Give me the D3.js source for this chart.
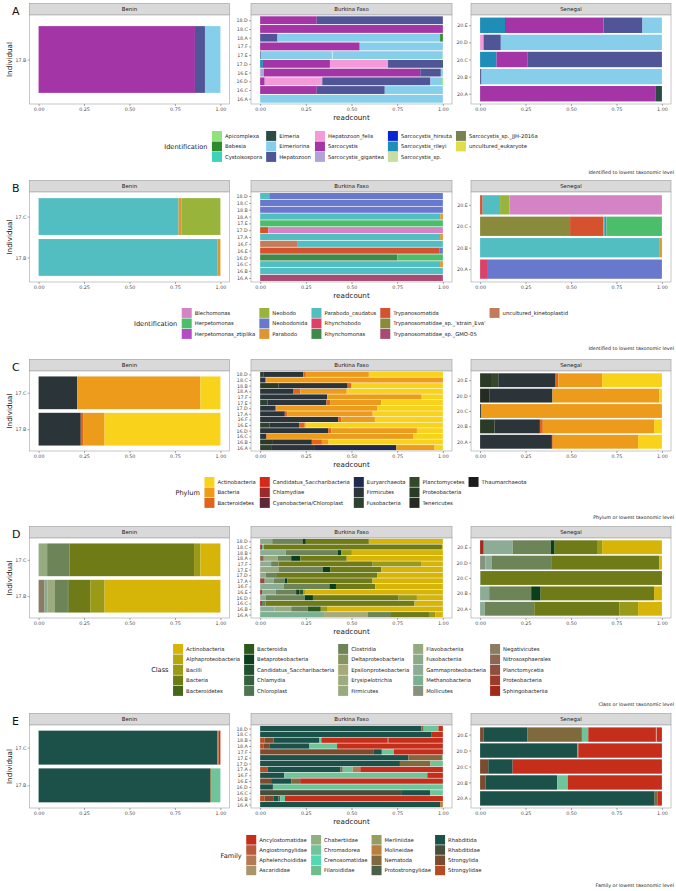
<!DOCTYPE html>
<html><head><meta charset="utf-8">
<script src="https://cdn.jsdelivr.net/npm/d3@7"></script>
<style>body{margin:0;background:#fff}svg{display:block}text{font-family:"DejaVu Sans",sans-serif}</style>
</head><body><svg id="c" width="676" height="891"></svg>
<script>
const countries = ["Benin","Burkina Faso","Senegal"];
const tickValues = [0,0.25,0.5,0.75,1];
const tickLabels = ["0.00","0.25","0.50","0.75","1.00"];

// ---------- Panel A : Identification (Apicomplexa) ----------
const catsA = ["Apicomplexa","Babesia","Cystoisospora","Eimeria","Eimeriorina","Hepatozoon","Hepatozoon_felis","Sarcocystis","Sarcocystis_gigantea","Sarcocystis_hirsuta","Sarcocystis_rileyi","Sarcocystis_sp.","Sarcocystis_sp._JJH-2016a","uncultured_eukaryote"];
const colsA = ["#90e27c","#2e8b2e","#3dd3b8","#2a4a45","#87ceeb","#4f5596","#f59ad8","#a335a6","#b2a2d8","#0a25d2","#1e8db8","#c8dda4","#7a8052","#e0dd50"];
const barsA = [
 ["Benin","17.B",[["Sarcocystis",.86],["Hepatozoon",.055],["Eimeriorina",.085]]],
 ["Burkina Faso","18.D",[["Sarcocystis",.31],["Hepatozoon",.69]]],
 ["Burkina Faso","18.C",[["Sarcocystis",1]]],
 ["Burkina Faso","18.A",[["Hepatozoon",.095],["Eimeriorina",.89],["Babesia",.015]]],
 ["Burkina Faso","17.F",[["Sarcocystis",.545],["Eimeriorina",.455]]],
 ["Burkina Faso","17.E",[["Hepatozoon",.004],["Eimeriorina",.391],["Eimeriorina",.603],["Apicomplexa",.002]]],
 ["Burkina Faso","17.D",[["Sarcocystis_rileyi",.015],["Sarcocystis",.367],["Hepatozoon_felis",.318],["Hepatozoon",.295],["Eimeria",.005]]],
 ["Burkina Faso","16.E",[["Sarcocystis_gigantea",.02],["Sarcocystis",.856],["Hepatozoon",.113],["Eimeriorina",.011]]],
 ["Burkina Faso","16.D",[["Sarcocystis",.025],["Hepatozoon_felis",.315],["Hepatozoon",.592],["Eimeriorina",.063],["Apicomplexa",.005]]],
 ["Burkina Faso","16.C",[["Sarcocystis",.31],["Hepatozoon",.372],["Eimeriorina",.318]]],
 ["Burkina Faso","16.A",[["Eimeriorina",1]]],
 ["Senegal","20.E",[["Sarcocystis_rileyi",.138],["Sarcocystis_hirsuta",.004],["Sarcocystis",.537],["Hepatozoon",.214],["Eimeriorina",.107]]],
 ["Senegal","20.D",[["Hepatozoon_felis",.019],["Hepatozoon",.095],["Eimeriorina",.886]]],
 ["Senegal","20.C",[["Sarcocystis_rileyi",.09],["Sarcocystis",.172],["Hepatozoon",.738]]],
 ["Senegal","20.B",[["Hepatozoon",.008],["Eimeriorina",.992]]],
 ["Senegal","20.A",[["Sarcocystis",.964],["Eimeria",.036]]]
];

// ---------- Panel B : Identification (Kinetoplastida) ----------
const catsB = ["Blechomonas","Herpetomonas","Herpetomonas_ztiplika","Neobodo","Neobodonida","Parabodo","Parabodo_caudatus","Rhynchobodo","Rhynchomonas","Trypanosomatida","Trypanosomatidae_sp._'strain_Eva'","Trypanosomatidae_sp._GMO-05","uncultured_kinetoplastid"];
const colsB = ["#d484c4","#4cbd6a","#b44cc8","#98b43a","#6878cc","#e09630","#52bec2","#dc4268","#3d8a4a","#d4522e","#8a8a3c","#a84a72","#c27c5c"];
const barsB = [
 ["Benin","17.C",[["Parabodo_caudatus",.77],["Parabodo",.015],["Neobodo",.215]]],
 ["Benin","17.B",[["Parabodo_caudatus",.985],["Parabodo",.015]]],
 ["Burkina Faso","18.D",[["Parabodo_caudatus",.05],["Neobodonida",.95]]],
 ["Burkina Faso","18.C",[["Neobodonida",1]]],
 ["Burkina Faso","18.B",[["Neobodonida",1]]],
 ["Burkina Faso","18.A",[["Parabodo_caudatus",.986],["Parabodo",.014]]],
 ["Burkina Faso","17.E",[["Herpetomonas",1]]],
 ["Burkina Faso","17.D",[["Trypanosomatida",.045],["Blechomonas",.955]]],
 ["Burkina Faso","17.A",[["Parabodo_caudatus",.985],["Parabodo",.015]]],
 ["Burkina Faso","16.F",[["uncultured_kinetoplastid",.206],["Parabodo_caudatus",.794]]],
 ["Burkina Faso","16.E",[["Trypanosomatida",.983],["Neobodonida",.017]]],
 ["Burkina Faso","16.D",[["Rhynchomonas",.751],["Herpetomonas",.249]]],
 ["Burkina Faso","16.C",[["Parabodo_caudatus",.985],["Parabodo",.015]]],
 ["Burkina Faso","16.B",[["Parabodo_caudatus",1]]],
 ["Burkina Faso","16.A",[["Trypanosomatidae_sp._GMO-05",1]]],
 ["Senegal","20.E",[["Trypanosomatida",.014],["Parabodo_caudatus",.096],["Neobodo",.052],["Blechomonas",.838]]],
 ["Senegal","20.C",[["Trypanosomatidae_sp._'strain_Eva'",.495],["Trypanosomatida",.184],["Parabodo_caudatus",.008],["Neobodonida",.008],["Herpetomonas",.305]]],
 ["Senegal","20.B",[["Parabodo_caudatus",.985],["Parabodo",.015]]],
 ["Senegal","20.A",[["Rhynchobodo",.043],["Neobodonida",.957]]]
];

// ---------- Panel C : Phylum ----------
const catsC = ["Actinobacteria","Bacteria","Bacteroidetes","Candidatus_Saccharibacteria","Chlamydiae","Cyanobacteria/Chloroplast","Euryarchaeota","Firmicutes","Fusobacteria","Planctomycetes","Proteobacteria","Tenericutes","Thaumarchaeota"];
const colsC = ["#f9d21b","#ec9b1a","#e0651a","#d42a1a","#9c2a2a","#5e2838","#202a50","#2b3539","#2c4130","#34482a","#293a26","#262b22","#1c1c1c"];
const barsC = [
 ["Benin","17.C",[["Firmicutes",.213],["Bacteria",.677],["Actinobacteria",.11]]],
 ["Benin","17.B",[["Firmicutes",.232],["Bacteroidetes",.013],["Bacteria",.118],["Actinobacteria",.637]]],
 ["Burkina Faso","18.D",[["Fusobacteria",.02],["Firmicutes",.217],["Bacteroidetes",.013],["Bacteria",.345],["Actinobacteria",.405]]],
 ["Burkina Faso","18.C",[["Firmicutes",.03],["Bacteroidetes",.005],["Bacteria",.965]]],
 ["Burkina Faso","18.B",[["Proteobacteria",.1],["Firmicutes",.379],["Bacteroidetes",.021],["Actinobacteria",.5]]],
 ["Burkina Faso","18.A",[["Firmicutes",.18],["Bacteroidetes",.04],["Bacteria",.254],["Actinobacteria",.526]]],
 ["Burkina Faso","17.F",[["Firmicutes",.367],["Bacteria",.517],["Actinobacteria",.116]]],
 ["Burkina Faso","17.E",[["Fusobacteria",.04],["Firmicutes",.323],["Bacteroidetes",.02],["Bacteria",.28],["Actinobacteria",.337]]],
 ["Burkina Faso","17.D",[["Firmicutes",.085],["Bacteroidetes",.005],["Bacteria",.55],["Actinobacteria",.36]]],
 ["Burkina Faso","17.A",[["Firmicutes",.135],["Candidatus_Saccharibacteria",.005],["Bacteroidetes",.01],["Bacteria",.466],["Actinobacteria",.384]]],
 ["Burkina Faso","16.F",[["Firmicutes",.427],["Bacteroidetes",.018],["Bacteria",.183],["Actinobacteria",.372]]],
 ["Burkina Faso","16.E",[["Fusobacteria",.05],["Firmicutes",.163],["Bacteroidetes",.031],["Bacteria",.006],["Actinobacteria",.75]]],
 ["Burkina Faso","16.D",[["Firmicutes",.372],["Bacteroidetes",.018],["Bacteria",.468],["Actinobacteria",.142]]],
 ["Burkina Faso","16.C",[["Firmicutes",.033],["Bacteroidetes",.004],["Bacteria",.803],["Actinobacteria",.16]]],
 ["Burkina Faso","16.B",[["Proteobacteria",.07],["Firmicutes",.213],["Bacteroidetes",.055],["Bacteria",.037],["Actinobacteria",.625]]],
 ["Burkina Faso","16.A",[["Fusobacteria",.06],["Firmicutes",.24],["Euryarchaeota",.445],["Bacteria",.21],["Actinobacteria",.045]]],
 ["Senegal","20.E",[["Planctomycetes",.04],["Proteobacteria",.06],["Firmicutes",.312],["Bacteroidetes",.018],["Bacteria",.241],["Actinobacteria",.329]]],
 ["Senegal","20.D",[["Tenericutes",.05],["Firmicutes",.348],["Bacteria",.588],["Actinobacteria",.014]]],
 ["Senegal","20.C",[["Firmicutes",.005],["Bacteria",.995]]],
 ["Senegal","20.B",[["Proteobacteria",.08],["Firmicutes",.249],["Bacteroidetes",.016],["Bacteria",.612],["Actinobacteria",.043]]],
 ["Senegal","20.A",[["Firmicutes",.395],["Bacteroidetes",.005],["Bacteria",.469],["Actinobacteria",.131]]]
];

// ---------- Panel D : Class ----------
const catsD = ["Actinobacteria","Alphaproteobacteria","Bacilli","Bacteria","Bacteroidetes","Bacteroidia","Betaproteobacteria","Candidatus_Saccharibacteria","Chlamydia","Chloroplast","Clostridia","Deltaproteobacteria","Epsilonproteobacteria","Erysipelotrichia","Firmicutes","Flavobacteriia","Fusobacteriia","Gammaproteobacteria","Methanobacteria","Mollicutes","Negativicutes","Nitrososphaerales","Planctomycetia","Proteobacteria","Sphingobacteriia"];
const colsD = ["#d6b508","#b6a80c","#999a18","#6f7b16","#48661a","#2d5a1c","#0b3e1b","#1f502f","#365f3d","#4e7452","#6c8458","#879460","#a6aa78","#9dac80","#98aa80","#94ab82","#8ca98a","#8cac96","#7db093","#87927e","#8b7d64","#8c6650","#904e3c","#9b3b2a","#a2281a"];
const barsD = [
 ["Benin","17.C",[["Firmicutes",.047],["Clostridia",.123],["Bacteria",.685],["Bacilli",.035],["Actinobacteria",.11]]],
 ["Benin","17.B",[["Negativicutes",.033],["Fusobacteriia",.017],["Erysipelotrichia",.04],["Clostridia",.071],["Bacteroidia",.004],["Bacteria",.119],["Bacilli",.079],["Actinobacteria",.637]]],
 ["Burkina Faso","18.D",[["Fusobacteriia",.066],["Clostridia",.166],["Betaproteobacteria",.018],["Bacteria",.345],["Actinobacteria",.405]]],
 ["Burkina Faso","18.C",[["Proteobacteria",.01],["Methanobacteria",.01],["Bacteria",.975],["Actinobacteria",.005]]],
 ["Burkina Faso","18.B",[["Gammaproteobacteria",.14],["Clostridia",.284],["Betaproteobacteria",.021],["Bacilli",.057],["Actinobacteria",.498]]],
 ["Burkina Faso","18.A",[["Nitrososphaerales",.02],["Firmicutes",.075],["Clostridia",.075],["Betaproteobacteria",.05],["Bacteria",.254],["Actinobacteria",.526]]],
 ["Burkina Faso","17.F",[["Gammaproteobacteria",.06],["Clostridia",.04],["Bacteria",.516],["Bacilli",.268],["Actinobacteria",.116]]],
 ["Burkina Faso","17.E",[["Firmicutes",.1],["Clostridia",.244],["Betaproteobacteria",.039],["Bacteria",.28],["Actinobacteria",.337]]],
 ["Burkina Faso","17.D",[["Fusobacteriia",.03],["Clostridia",.055],["Betaproteobacteria",.005],["Bacteria",.55],["Actinobacteria",.36]]],
 ["Burkina Faso","17.A",[["Planctomycetia",.025],["Fusobacteriia",.05],["Clostridia",.06],["Betaproteobacteria",.015],["Bacteria",.465],["Actinobacteria",.385]]],
 ["Burkina Faso","16.F",[["Gammaproteobacteria",.13],["Clostridia",.249],["Betaproteobacteria",.036],["Bacteria",.215],["Actinobacteria",.37]]],
 ["Burkina Faso","16.E",[["Proteobacteria",.01],["Fusobacteriia",.075],["Clostridia",.112],["Betaproteobacteria",.018],["Bacteroidia",.02],["Bacilli",.01],["Actinobacteria",.755]]],
 ["Burkina Faso","16.D",[["Gammaproteobacteria",.03],["Clostridia",.214],["Betaproteobacteria",.045],["Bacteria",.469],["Bacilli",.1],["Actinobacteria",.142]]],
 ["Burkina Faso","16.C",[["Proteobacteria",.01],["Clostridia",.02],["Bacteria",.815],["Actinobacteria",.155]]],
 ["Burkina Faso","16.B",[["Gammaproteobacteria",.08],["Firmicutes",.09],["Clostridia",.09],["Bacteroidia",.072],["Bacilli",.038],["Actinobacteria",.63]]],
 ["Burkina Faso","16.A",[["Methanobacteria",.35],["Epsilonproteobacteria",.238],["Clostridia",.128],["Bacteria",.208],["Bacilli",.036],["Actinobacteria",.04]]],
 ["Senegal","20.E",[["Sphingobacteriia",.02],["Gammaproteobacteria",.159],["Clostridia",.209],["Betaproteobacteria",.022],["Bacteria",.233],["Bacilli",.028],["Actinobacteria",.329]]],
 ["Senegal","20.D",[["Mollicutes",.03],["Gammaproteobacteria",.035],["Clostridia",.33],["Bacteria",.591],["Actinobacteria",.014]]],
 ["Senegal","20.C",[["Clostridia",.003],["Bacteria",.997]]],
 ["Senegal","20.B",[["Gammaproteobacteria",.05],["Clostridia",.231],["Betaproteobacteria",.052],["Bacteria",.624],["Actinobacteria",.043]]],
 ["Senegal","20.A",[["Gammaproteobacteria",.025],["Clostridia",.273],["Bacteria",.469],["Bacilli",.102],["Actinobacteria",.131]]]
];

// ---------- Panel E : Family ----------
const catsE = ["Ancylostomatidae","Angiostrongylidae","Aphelenchoididae","Ascarididae","Chabertiidae","Chromadorea","Crenosomatidae","Filaroididae","Merliniidae","Molineidae","Nematoda","Protostrongylidae","Rhabditida","Rhabditidae","Strongylida","Strongylidae"];
const colsE = ["#c42e1a","#b85a3c","#b57a54","#a8966a","#8fb07f","#70c49a","#52d8b2","#6dbd8d","#959d62","#b8803c","#81693e","#4a6048","#1b5148","#474f3b","#7b4b2e","#b54c22"];
const barsE = [
 ["Benin","17.C",[["Rhabditida",.984],["Molineidae",.006],["Ancylostomatidae",.01]]],
 ["Benin","17.B",[["Rhabditida",.944],["Nematoda",.004],["Chromadorea",.052]]],
 ["Burkina Faso","18.D",[["Rhabditida",.882],["Nematoda",.013],["Chromadorea",.081],["Ancylostomatidae",.024]]],
 ["Burkina Faso","18.C",[["Rhabditida",.939],["Ancylostomatidae",.061]]],
 ["Burkina Faso","18.B",[["Strongylidae",.025],["Strongylida",.048],["Rhabditida",.252],["Chromadorea",.01],["Ancylostomatidae",.365],["Ancylostomatidae",.30]]],
 ["Burkina Faso","18.A",[["Strongylidae",.02],["Strongylida",.03],["Rhabditida",.22],["Chromadorea",.151],["Ancylostomatidae",.579]]],
 ["Burkina Faso","17.F",[["Strongylida",.619],["Rhabditida",.047],["Chromadorea",.066],["Ancylostomatidae",.268]]],
 ["Burkina Faso","17.E",[["Rhabditida",.812],["Nematoda",.183],["Chromadorea",.005]]],
 ["Burkina Faso","17.D",[["Rhabditida",.765],["Nematoda",.167],["Chromadorea",.068]]],
 ["Burkina Faso","17.A",[["Strongylidae",.04],["Rhabditida",.40],["Nematoda",.012],["Chromadorea",.054],["Aphelenchoididae",.042],["Ancylostomatidae",.452]]],
 ["Burkina Faso","16.F",[["Rhabditida",.132],["Chromadorea",.783],["Ancylostomatidae",.085]]],
 ["Burkina Faso","16.E",[["Strongylida",.06],["Rhabditida",.112],["Nematoda",.047],["Ancylostomatidae",.781]]],
 ["Burkina Faso","16.D",[["Rhabditida",.07],["Chromadorea",.93]]],
 ["Burkina Faso","16.C",[["Rhabditidae",.776],["Rhabditida",.154],["Chromadorea",.07]]],
 ["Burkina Faso","16.B",[["Strongylidae",.025],["Strongylida",.05],["Rhabditida",.025],["Protostrongylidae",.01],["Chromadorea",.026],["Ancylostomatidae",.864]]],
 ["Burkina Faso","16.A",[["Rhabditida",.985],["Molineidae",.015]]],
 ["Senegal","20.E",[["Strongylida",.02],["Rhabditida",.239],["Nematoda",.301],["Chromadorea",.035],["Ancylostomatidae",.374],["Ancylostomatidae",.031]]],
 ["Senegal","20.D",[["Rhabditida",.536],["Chromadorea",.004],["Ancylostomatidae",.46]]],
 ["Senegal","20.C",[["Strongylida",.045],["Rhabditida",.134],["Ancylostomatidae",.821]]],
 ["Senegal","20.B",[["Strongylida",.03],["Rhabditida",.394],["Chromadorea",.058],["Ancylostomatidae",.518]]],
 ["Senegal","20.A",[["Rhabditida",.96],["Nematoda",.015],["Ancylostomatidae",.025]]]
];

// ---------- Layout ----------
const svg = d3.select("#c");
const facetX = [[29.5,229.5],[251,452],[471,671]];
const panels = [
 {tag:"A",cats:catsA,cols:colsA,bars:barsA,title:"Identification",caption:"Identified to lowest taxonomic level",stripTop:3.5,plotTop:15,plotBottom:104,legTop:131,rows:3,pitch:10.5,capY:174},
 {tag:"B",cats:catsB,cols:colsB,bars:barsB,title:"Identification",caption:"Identified to lowest taxonomic level",stripTop:180.5,plotTop:192,plotBottom:282,legTop:308,rows:3,pitch:10.5,capY:350},
 {tag:"C",cats:catsC,cols:colsC,bars:barsC,title:"Phylum",caption:"Phylum or lowest taxonomic level",stripTop:359.5,plotTop:371,plotBottom:451,legTop:477,rows:3,pitch:10.5,capY:519},
 {tag:"D",cats:catsD,cols:colsD,bars:barsD,title:"Class",caption:"Class or lowest taxonomic level",stripTop:526.5,plotTop:538,plotBottom:618,legTop:644,rows:5,pitch:10.5,capY:706},
 {tag:"E",cats:catsE,cols:colsE,bars:barsE,title:"Family",caption:"Family or lowest taxonomic level",stripTop:713.5,plotTop:725,plotBottom:808,legTop:835,rows:4,pitch:10.2,capY:887}
];

panels.forEach(p=>{
  const color = d3.scaleOrdinal().domain(p.cats).range(p.cols);
  const g = svg.append("g");
  g.append("text").attr("x",12).attr("y",p.stripTop+11).attr("font-size",11).attr("fill","#111").text(p.tag);
  countries.forEach((country,fi)=>{
    const rows = p.bars.filter(b=>b[0]===country).sort((a,b)=>d3.ascending(a[1],b[1]));
    const n = rows.length;
    const [x0,x1] = facetX[fi];
    const x = d3.scaleLinear().domain([-0.05,1.05]).range([x0,x1]);
    const y = d3.scaleLinear().domain([0.4,n+0.6]).range([p.plotBottom,p.plotTop]);
    g.append("rect").attr("x",x0).attr("y",p.stripTop).attr("width",x1-x0).attr("height",p.plotTop-p.stripTop)
      .attr("fill","#d9d9d9").attr("stroke","#9a9a9a").attr("stroke-width",0.6);
    g.append("text").attr("x",(x0+x1)/2).attr("y",(p.stripTop+p.plotTop)/2+1.9).attr("text-anchor","middle")
      .attr("font-size",5.4).attr("fill","#1a1a1a").text(country);
    g.append("rect").attr("x",x0).attr("y",p.plotTop).attr("width",x1-x0).attr("height",p.plotBottom-p.plotTop)
      .attr("fill","#fff");
    rows.forEach((r,i)=>{
      const segs = r[2].map((s,k)=>({cat:s[0],v:s[1],k})).sort((a,b)=>
        d3.descending(p.cats.indexOf(a.cat),p.cats.indexOf(b.cat)) || (a.k-b.k));
      const tot = d3.sum(segs,s=>s.v);
      const yt = y(i+1+0.45), yb = y(i+1-0.45);
      let cum = 0, prev = null;
      segs.forEach(s=>{
        const a = cum/tot; cum += s.v; const b = cum/tot;
        g.append("rect").attr("x",x(a)).attr("width",Math.max(0,x(b)-x(a)))
          .attr("y",yt).attr("height",yb-yt).attr("fill",color(s.cat));
        if(prev===s.cat){
          g.append("line").attr("x1",x(a)).attr("x2",x(a)).attr("y1",yt).attr("y2",yb)
            .attr("stroke","#fff").attr("stroke-width",0.6).attr("stroke-opacity",0.85);
        }
        prev = s.cat;
      });
    });
    g.append("rect").attr("x",x0).attr("y",p.plotTop).attr("width",x1-x0).attr("height",p.plotBottom-p.plotTop)
      .attr("fill","none").attr("stroke","#b0b0b0").attr("stroke-width",0.7);
    const xa = g.append("g").attr("transform",`translate(0,${p.plotBottom})`)
      .call(d3.axisBottom(x).tickValues(tickValues).tickFormat((d,i)=>tickLabels[i]).tickSize(2).tickPadding(1.5));
    xa.select(".domain").remove();
    xa.selectAll("line").attr("stroke","#555").attr("stroke-width",0.5);
    xa.selectAll("text").attr("font-size",4.8).attr("fill","#4d4d4d").attr("font-family","Liberation Sans, sans-serif");
    const ya = g.append("g").attr("transform",`translate(${x0},0)`)
      .call(d3.axisLeft(y).tickValues(d3.range(1,n+1)).tickFormat(d=>rows[d-1][1]).tickSize(2).tickPadding(1.2));
    ya.select(".domain").remove();
    ya.selectAll("line").attr("stroke","#555").attr("stroke-width",0.5);
    ya.selectAll("text").attr("font-size",4.8).attr("fill","#4d4d4d").attr("font-family","Liberation Sans, sans-serif");
  });
  g.append("text").attr("x",(facetX[1][0]+facetX[1][1])/2).attr("y",p.plotBottom+15.5).attr("text-anchor","middle")
    .attr("font-size",7.2).attr("fill","#1a1a1a").text("readcount");
  g.append("text").attr("transform",`translate(11.5,${(p.plotTop+p.plotBottom)/2}) rotate(-90)`).attr("text-anchor","middle")
    .attr("font-size",7.2).attr("fill","#1a1a1a").text("Individual");
  const lg = g.append("g");
  const title = lg.append("text").attr("font-size",6.6).attr("fill","#1a1a1a").text(p.title);
  const titleW = title.node().getComputedTextLength();
  const tmp = lg.append("text").attr("font-size",5.3);
  const widths = p.cats.map(c=>{tmp.text(c);return tmp.node().getComputedTextLength();});
  tmp.remove();
  const nCols = Math.ceil(p.cats.length/p.rows);
  const colW = d3.range(nCols).map(c=>13+d3.max(widths.slice(c*p.rows,(c+1)*p.rows))+4);
  const total = titleW+4.5+d3.sum(colW)-4;
  const lx0 = 351-total/2;
  title.attr("x",lx0).attr("y",p.legTop+p.rows*p.pitch/2+2.2);
  let cx = lx0+titleW+4.5;
  d3.range(nCols).forEach(c=>{
    d3.range(p.rows).forEach(r=>{
      const idx = c*p.rows+r;
      if(idx>=p.cats.length) return;
      const yy = p.legTop+r*p.pitch;
      lg.append("rect").attr("x",cx).attr("y",yy).attr("width",10).attr("height",p.pitch-0.6).attr("fill",color(p.cats[idx]));
      lg.append("text").attr("x",cx+13).attr("y",yy+p.pitch/2+1.6).attr("font-size",5.3).attr("fill","#1a1a1a").text(p.cats[idx]);
    });
    cx += colW[c];
  });
  g.append("text").attr("x",674).attr("y",p.capY).attr("text-anchor","end").attr("font-size",4.8).attr("fill","#1a1a1a").text(p.caption);
});
</script></body></html>
